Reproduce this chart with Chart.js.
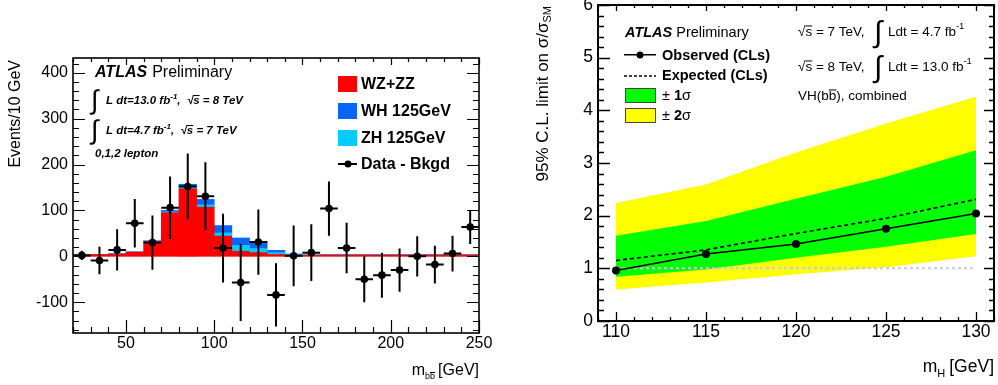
<!DOCTYPE html>
<html>
<head>
<meta charset="utf-8">
<script src="https://cdn.jsdelivr.net/npm/chart.js@4.4.1/dist/chart.umd.min.js"></script>
<style>
  html, body { margin: 0; padding: 0; background: #fff; }
  #wrap { position: relative; width: 998px; height: 385px; overflow: hidden; }
  canvas { position: absolute; top: 0; }
  #mbbChart { left: 0; }
  #limitChart { left: 498px; }
</style>
</head>
<body>
<div id="wrap">
  <canvas id="mbbChart" width="498" height="385"></canvas>
  <canvas id="limitChart" width="500" height="385"></canvas>
</div>
<script>
// ---- Panel izquierdo: m_bb (Data - Bkgd) ----
const binCenters   = [25, 35, 45, 55, 65, 75, 85, 95, 105, 115, 125, 135, 145, 155, 165, 175, 185, 195, 205, 215, 225, 235, 245];
const wzzzEvents   = [4, 4, 5, 9, 32, 95, 147, 107, 44, 11, 8, 4, 2, 2, 3, 3, 3, 3, 3, 3, 3, 3, 3];
const zhEvents     = [0, 0, 0.5, 0.5, 0.5, 2, 4, 5, 7, 13, 9, 4, 1, 0.5, 0.3, 0.3, 0.3, 0.3, 0.3, 0.3, 0.3, 0.3, 0.3];
const whEvents     = [0, 0, 0.5, 0.5, 1.5, 3, 6, 12, 16, 16, 15, 5, 2, 1, 0.5, 0.5, 0.5, 0.5, 0.5, 0.5, 0.5, 0.5, 0.5];
const dataMinusBkgd = [2, -9, 14, 72, 30, 106, 152, 131, 18, -57, 31, -84, 1, 8, 104, 18, -50, -41, -30, 0, -18, 6, 64];
const dataErrors   = [10, 30, 45, 53, 59, 68, 72, 74, 75, 84, 71, 69, 66, 62, 59, 55, 50, 49, 47, 44, 41, 39, 37];
const mbbTicks     = [50, 100, 150, 200, 250];
const eventTicks   = [-100, 0, 100, 200, 300, 400];

// ---- Panel derecho: límite 95% C.L. ----
const higgsMass     = [110, 115, 120, 125, 130];
const observedLimit = [0.96, 1.27, 1.46, 1.75, 2.04];
const expectedLimit = [1.15, 1.35, 1.66, 1.95, 2.31];
const band1Up       = [1.62, 1.90, 2.32, 2.74, 3.24];
const band1Down     = [0.84, 0.98, 1.20, 1.41, 1.65];
const band2Up       = [2.24, 2.59, 3.20, 3.75, 4.26];
const band2Down     = [0.60, 0.73, 0.89, 1.02, 1.23];
const smLine        = [1, 1, 1, 1, 1];
const massTicks     = [110, 115, 120, 125, 130];
const limitTicks    = [0, 1, 2, 3, 4, 5, 6];

const FONT = "'Liberation Sans', Arial, Helvetica, sans-serif";

function pts(xs, ys) { return xs.map((v, i) => ({ x: v, y: ys[i] })); }

function fixedSize(size, isX) {
  return function(scale) {
    if (isX) scale.height = size; else scale.width = size;
    scale.paddingTop = 0; scale.paddingBottom = 0;
    scale.paddingLeft = 0; scale.paddingRight = 0;
  };
}
function useTicks(values) {
  return function(scale) { scale.ticks = values.map(v => ({ value: v })); };
}

// Texto con partes (sub/superíndices, barras)
function richText(ctx, x, y, parts, align) {
  let total = 0;
  parts.forEach(p => { ctx.font = p.font; p.w = ctx.measureText(p.t).width; total += p.w + (p.gap || 0); });
  let cx = align === 'right' ? x - total : x;
  parts.forEach(p => {
    ctx.font = p.font;
    ctx.fillText(p.t, cx, y + (p.dy || 0));
    if (p.bar) {
      const size = parseFloat(p.font.match(/([\d.]+)px/)[1]);
      const by = y + (p.dy || 0) - size * 0.78;
      const bw = p.barWidth ? p.barWidth : p.w;
      const bx = p.barFrom === 'end' ? cx + p.w - bw : cx;
      ctx.fillRect(bx, by, bw, Math.max(1, size * 0.07));
    }
    cx += p.w + (p.gap || 0);
  });
  return total;
}

// Marco estilo ROOT con marcas hacia dentro
const rootFrame = {
  id: 'rootFrame',
  afterDraw(chart, args, o) {
    const { ctx, chartArea: a, scales: { x, y } } = chart;
    ctx.save();
    ctx.strokeStyle = '#000';
    ctx.lineWidth = o.tickWidth;
    ctx.beginPath();
    const steps = (min, max, step) => {
      const out = [];
      for (let i = Math.ceil(min / step - 1e-9); i * step <= max + 1e-9; i++) out.push(i * step);
      return out;
    };
    const isMajor = (v, m) => Math.abs(v / m - Math.round(v / m)) < 1e-6;
    steps(x.min, x.max, o.xMinor).forEach(v => {
      const px = Math.round(x.getPixelForValue(v)) + 0.5;
      const maj = isMajor(v, o.xMajor);
      ctx.moveTo(px, a.bottom); ctx.lineTo(px, a.bottom - (maj ? o.xBotLen[0] : o.xBotLen[1]));
      ctx.moveTo(px, a.top); ctx.lineTo(px, a.top + (maj ? o.xTopLen[0] : o.xTopLen[1]));
    });
    steps(y.min, y.max, o.yMinor).forEach(v => {
      const py = Math.round(y.getPixelForValue(v)) + 0.5;
      const maj = isMajor(v, o.yMajor);
      ctx.moveTo(a.left, py); ctx.lineTo(a.left + (maj ? o.yLeftLen[0] : o.yLeftLen[1]), py);
      ctx.moveTo(a.right, py); ctx.lineTo(a.right - (maj ? o.yRightLen[0] : o.yRightLen[1]), py);
    });
    ctx.stroke();
    ctx.lineWidth = o.frameWidth;
    ctx.strokeRect(a.left, a.top, a.right - a.left, a.bottom - a.top);
    ctx.restore();
  }
};

// Barras de error de Data - Bkgd
const dataErrorBars = {
  id: 'dataErrorBars',
  afterDatasetsDraw(chart) {
    const { ctx, chartArea: a, scales: { x, y } } = chart;
    ctx.save();
    ctx.beginPath();
    ctx.rect(a.left, a.top, a.right - a.left, a.bottom - a.top);
    ctx.clip();
    ctx.strokeStyle = '#000';
    ctx.lineWidth = 2;
    ctx.beginPath();
    binCenters.forEach((c, i) => {
      const v = dataMinusBkgd[i], e = dataErrors[i];
      const px = x.getPixelForValue(c), py = y.getPixelForValue(v);
      ctx.moveTo(px, y.getPixelForValue(v + e));
      ctx.lineTo(px, y.getPixelForValue(v - e));
      ctx.moveTo(x.getPixelForValue(c - 5), py);
      ctx.lineTo(x.getPixelForValue(c + 5), py);
    });
    ctx.stroke();
    ctx.restore();
  }
};

const mbbLabels = {
  id: 'mbbLabels',
  afterDraw(chart) {
    const ctx = chart.ctx;
    ctx.save();
    ctx.fillStyle = '#000';
    ctx.textBaseline = 'alphabetic';
    ctx.textAlign = 'left';

    // Título eje Y
    ctx.save();
    ctx.translate(16, 60);
    ctx.rotate(-Math.PI / 2);
    ctx.textAlign = 'right';
    ctx.textBaseline = 'middle';
    ctx.font = '16px ' + FONT;
    ctx.fillText('Events/10 GeV', 0, 0);
    ctx.restore();

    // Título eje X
    richText(ctx, 479, 375, [
      { t: 'm', font: '16px ' + FONT },
      { t: 'bb', font: '9px ' + FONT, dy: 4, bar: true, barFrom: 'end', barWidth: 5, gap: 3 },
      { t: '[GeV]', font: '16px ' + FONT }
    ], 'right');

    // ATLAS Preliminary
    ctx.font = 'italic bold 16px ' + FONT;
    ctx.fillText('ATLAS', 95, 77);
    const aw = ctx.measureText('ATLAS').width;
    ctx.font = '16px ' + FONT;
    ctx.fillText('Preliminary', 95 + aw + 5, 77);

    // Luminosidades
    const bi = 'italic bold 11.5px ' + FONT;
    [[104, '13.0', '8'], [134, '4.7', '7']].forEach(([base, lumi, rs]) => {
      ctx.font = '27px ' + FONT;
      ctx.fillText('\u222B', 91, base + 5);
      richText(ctx, 106, base, [
        { t: 'L dt=' + lumi + ' fb', font: bi },
        { t: '-1', font: 'italic bold 8px ' + FONT, dy: -5 },
        { t: ',  \u221A', font: bi },
        { t: 's', font: bi, bar: true },
        { t: ' = ' + rs + ' TeV', font: bi }
      ], 'left');
    });
    ctx.font = 'italic bold 11.5px ' + FONT;
    ctx.fillText('0,1,2 lepton', 95, 157);

    // Leyenda
    const items = [
      ['#ff0000', 'WZ+ZZ', 84],
      ['#0a64ff', 'WH 125GeV', 111],
      ['#00ccff', 'ZH 125GeV', 138]
    ];
    ctx.font = 'bold 16px ' + FONT;
    ctx.textBaseline = 'middle';
    items.forEach(([c, t, cy]) => {
      ctx.fillStyle = c;
      ctx.fillRect(338, cy - 8, 19, 16);
      ctx.fillStyle = '#000';
      ctx.fillText(t, 361, cy + 1);
    });
    ctx.fillRect(338, 163, 19, 2);
    ctx.beginPath(); ctx.arc(348, 164, 3.5, 0, Math.PI * 2); ctx.fill();
    ctx.fillText('Data - Bkgd', 361, 165);
    ctx.restore();
  }
};

const limitLabels = {
  id: 'limitLabels',
  afterDraw(chart) {
    const ctx = chart.ctx;
    const ox = -498; // coordenadas de pantalla -> canvas derecho
    ctx.save();
    ctx.translate(ox, 0);
    ctx.fillStyle = '#000';
    ctx.textBaseline = 'alphabetic';
    ctx.textAlign = 'left';

    // Título eje Y
    ctx.save();
    ctx.translate(543, 6);
    ctx.rotate(-Math.PI / 2);
    ctx.textBaseline = 'middle';
    richText(ctx, 0, 0, [
      { t: '95% C.L. limit on \u03C3/\u03C3', font: '17px ' + FONT },
      { t: 'SM', font: '11px ' + FONT, dy: 5 }
    ], 'right');
    ctx.restore();

    // Título eje X
    richText(ctx, 994, 372, [
      { t: 'm', font: '17.5px ' + FONT },
      { t: 'H', font: '11px ' + FONT, dy: 5, gap: 4 },
      { t: '[GeV]', font: '17.5px ' + FONT }
    ], 'right');

    // ATLAS Preliminary
    ctx.font = 'italic bold 14.5px ' + FONT;
    ctx.fillText('ATLAS', 625, 37);
    const aw = ctx.measureText('ATLAS').width;
    ctx.font = '14.5px ' + FONT;
    ctx.fillText('Preliminary', 625 + aw + 4, 37);

    // Leyenda
    ctx.fillRect(624, 54, 32, 1.5);
    ctx.beginPath(); ctx.arc(640, 55, 3.5, 0, Math.PI * 2); ctx.fill();
    ctx.font = 'bold 14.5px ' + FONT;
    ctx.fillText('Observed (CLs)', 662, 60);
    ctx.save();
    ctx.strokeStyle = '#000';
    ctx.lineWidth = 1.5;
    ctx.setLineDash([3, 2]);
    ctx.beginPath(); ctx.moveTo(624, 76); ctx.lineTo(656, 76); ctx.stroke();
    ctx.restore();
    ctx.fillText('Expected (CLs)', 662, 80);

    [['#00ff00', '1', 88], ['#ffff00', '2', 108]].forEach(([c, n, top]) => {
      ctx.fillStyle = c;
      ctx.fillRect(625, top, 31, 15);
      ctx.strokeStyle = '#444';
      ctx.lineWidth = 1;
      ctx.strokeRect(625.5, top + 0.5, 30, 14);
      ctx.fillStyle = '#000';
      richText(ctx, 662, top + 12, [
        { t: '\u00B1 ', font: '14.5px ' + FONT },
        { t: n, font: 'bold 14.5px ' + FONT },
        { t: '\u03C3', font: '14.5px ' + FONT }
      ], 'left');
    });

    // Energía y luminosidad
    const f = '13.5px ' + FONT;
    [[36, '7', '4.7'], [71, '8', '13.0']].forEach(([base, rs, lumi]) => {
      richText(ctx, 798, base, [
        { t: '\u221A', font: f },
        { t: 's', font: f, bar: true },
        { t: ' = ' + rs + ' TeV,', font: f }
      ], 'left');
      ctx.font = '30px ' + FONT;
      ctx.fillText('\u222B', 874, base + 6);
      richText(ctx, 888, base, [
        { t: 'Ldt = ' + lumi + ' fb', font: f },
        { t: '-1', font: '9.5px ' + FONT, dy: -7 }
      ], 'left');
    });
    richText(ctx, 798, 100, [
      { t: 'VH(b', font: f },
      { t: 'b', font: f, bar: true },
      { t: '), combined', font: f }
    ], 'left');
    ctx.restore();
  }
};

// ---- Gráfica izquierda ----
new Chart(document.getElementById('mbbChart'), {
  type: 'bar',
  data: {
    datasets: [
      { label: 'WZ+ZZ', data: pts(binCenters, wzzzEvents), backgroundColor: '#ff0000', stack: 'mc', order: 1,
        barPercentage: 1, categoryPercentage: 1, borderWidth: 0 },
      { label: 'ZH 125GeV', data: pts(binCenters, zhEvents), backgroundColor: '#00ccff', stack: 'mc', order: 1,
        barPercentage: 1, categoryPercentage: 1, borderWidth: 0 },
      { label: 'WH 125GeV', data: pts(binCenters, whEvents), backgroundColor: '#0a64ff', stack: 'mc', order: 1,
        barPercentage: 1, categoryPercentage: 1, borderWidth: 0 },
      { type: 'line', label: 'Data - Bkgd', data: pts(binCenters, dataMinusBkgd), showLine: false, order: 0,
        pointRadius: 3.8, pointBackgroundColor: '#000', pointBorderWidth: 0 }
    ]
  },
  options: {
    responsive: false,
    animation: false,
    layout: { padding: { top: 58, right: 19, bottom: 0, left: 0 } },
    plugins: {
      legend: { display: false },
      tooltip: { enabled: false },
      rootFrame: { frameWidth: 1.6, tickWidth: 1.2, xMajor: 50, xMinor: 10, yMajor: 100, yMinor: 20,
        xBotLen: [13, 6], xTopLen: [7, 4], yLeftLen: [12, 6], yRightLen: [12, 6] }
    },
    scales: {
      x: {
        type: 'linear', min: 20, max: 250, offset: false,
        grid: { display: false, drawTicks: false }, border: { display: false },
        afterBuildTicks: useTicks(mbbTicks), afterFit: fixedSize(52, true),
        ticks: { padding: 1, color: '#000', font: { family: FONT, size: 16 } }
      },
      y: {
        min: -167, max: 432,
        grid: { display: false, drawTicks: false }, border: { display: false },
        afterBuildTicks: useTicks(eventTicks), afterFit: fixedSize(73, false),
        ticks: { padding: 5, color: '#000', font: { family: FONT, size: 16 } }
      }
    }
  },
  plugins: [dataErrorBars, rootFrame, mbbLabels]
});

// ---- Gráfica derecha ----
const noBorder = 'rgba(0,0,0,0)';
new Chart(document.getElementById('limitChart'), {
  type: 'line',
  data: {
    datasets: [
      { label: 'Observed (CLs)', data: pts(higgsMass, observedLimit), borderColor: '#000', borderWidth: 1.5,
        pointRadius: 4, pointBackgroundColor: '#000', pointBorderWidth: 0, order: 0 },
      { label: 'Expected (CLs)', data: pts(higgsMass, expectedLimit), borderColor: '#000', borderWidth: 1.6,
        borderDash: [4, 3], pointRadius: 0, order: 1 },
      { label: 'SM', data: pts(higgsMass, smLine), borderColor: '#c3ccd6', borderWidth: 2,
        borderDash: [3, 3], pointRadius: 0, order: 2 },
      { label: '+1 sigma', data: pts(higgsMass, band1Up), borderColor: noBorder, borderWidth: 0,
        backgroundColor: '#00ff00', fill: '+1', pointRadius: 0, order: 3 },
      { label: '-1 sigma', data: pts(higgsMass, band1Down), borderColor: noBorder, borderWidth: 0,
        pointRadius: 0, order: 4 },
      { label: '+2 sigma', data: pts(higgsMass, band2Up), borderColor: noBorder, borderWidth: 0,
        backgroundColor: '#ffff00', fill: '+1', pointRadius: 0, order: 5 },
      { label: '-2 sigma', data: pts(higgsMass, band2Down), borderColor: noBorder, borderWidth: 0,
        pointRadius: 0, order: 6 }
    ]
  },
  options: {
    responsive: false,
    animation: false,
    layout: { padding: { top: 5, right: 2, bottom: 0, left: 0 } },
    plugins: {
      legend: { display: false },
      tooltip: { enabled: false },
      rootFrame: { frameWidth: 2, tickWidth: 1.3, xMajor: 5, xMinor: 1, yMajor: 1, yMinor: 0.2,
        xBotLen: [9, 4], xTopLen: [6, 3], yLeftLen: [12, 6], yRightLen: [10, 5] }
    },
    scales: {
      x: {
        type: 'linear', min: 109, max: 131,
        grid: { display: false, drawTicks: false }, border: { display: false },
        afterBuildTicks: useTicks(massTicks), afterFit: fixedSize(64, true),
        ticks: { padding: 1, color: '#000', font: { family: FONT, size: 17.5 } }
      },
      y: {
        min: 0, max: 6,
        grid: { display: false, drawTicks: false }, border: { display: false },
        afterBuildTicks: useTicks(limitTicks), afterFit: fixedSize(100, false),
        ticks: { padding: 5, color: '#000', font: { family: FONT, size: 17.5 } }
      }
    }
  },
  plugins: [rootFrame, limitLabels]
});
</script>
</body>
</html>
